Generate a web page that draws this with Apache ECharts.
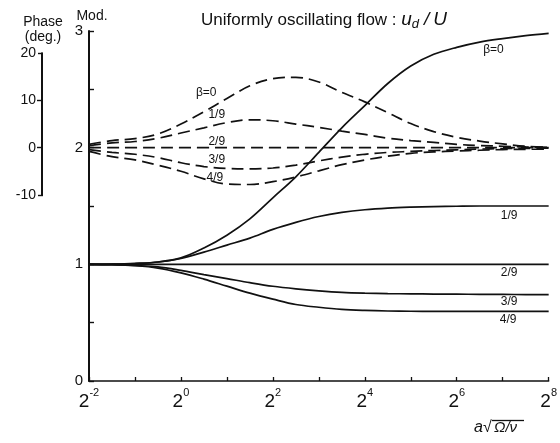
<!DOCTYPE html>
<html>
<head>
<meta charset="utf-8">
<script src="https://cdn.jsdelivr.net/npm/echarts@6/dist/echarts.min.js"></script>
<style>
  html, body { margin: 0; padding: 0; background: #fff; }
  #chart { width: 560px; height: 443px; }
</style>
</head>
<body>
<div id="chart"></div>
<script>
// Sample positions: log2 of a*sqrt(Omega/nu)
const logX = [-2, -1.5, -1, -0.5, 0, 0.5, 1, 1.5, 2, 2.5, 3, 3.5, 4, 4.5, 5, 5.5, 6, 6.5, 7, 7.5, 8];

// Modulus |u_d/U| for each beta
const modBeta0 = [1.0, 1.0, 1.005, 1.02, 1.055, 1.14, 1.25, 1.39, 1.57, 1.75, 1.96, 2.17, 2.36, 2.55, 2.70, 2.80, 2.86, 2.905, 2.935, 2.96, 2.98];
const modBeta1 = [1.0, 1.002, 1.008, 1.02, 1.05, 1.105, 1.165, 1.225, 1.30, 1.36, 1.41, 1.445, 1.468, 1.482, 1.49, 1.495, 1.498, 1.50, 1.50, 1.50, 1.50];
const modBeta2 = [1.0, 1.0, 1.0, 1.0, 1.0, 1.0, 1.0, 1.0, 1.0, 1.0, 1.0, 1.0, 1.0, 1.0, 1.0, 1.0, 1.0, 1.0, 1.0, 1.0, 1.0];
const modBeta3 = [1.0, 0.998, 0.99, 0.978, 0.948, 0.912, 0.878, 0.843, 0.812, 0.79, 0.773, 0.76, 0.753, 0.749, 0.747, 0.745, 0.744, 0.743, 0.742, 0.741, 0.741];
const modBeta4 = [1.0, 0.997, 0.988, 0.968, 0.927, 0.873, 0.813, 0.753, 0.702, 0.656, 0.632, 0.614, 0.605, 0.600, 0.598, 0.597, 0.597, 0.597, 0.597, 0.597, 0.597];

// Phase (deg.) for each beta
const phaseBeta0 = [0.7, 1.5, 1.9, 2.9, 5.0, 7.6, 10.4, 13.1, 14.6, 14.9, 13.9, 11.7, 9.7, 7.4, 5.1, 3.4, 2.2, 1.4, 0.8, 0.3, 0.1];
const phaseBeta1 = [0.4, 1.0, 1.3, 2.0, 3.1, 4.2, 5.3, 5.9, 5.7, 5.0, 4.3, 3.5, 2.8, 2.0, 1.5, 1.1, 0.7, 0.45, 0.3, 0.15, 0.05];
const phaseBeta2 = [0, 0, 0, 0, 0, 0, 0, 0, 0, 0, 0, 0, 0, 0, 0, 0, 0, 0, 0, 0, 0];
const phaseBeta3 = [-0.4, -1.0, -1.4, -2.1, -3.2, -4.0, -4.4, -4.5, -4.3, -3.7, -2.8, -2.0, -1.4, -1.0, -0.8, -0.6, -0.45, -0.3, -0.2, -0.15, -0.1];
const phaseBeta4 = [-0.8, -1.9, -2.6, -3.7, -5.0, -6.6, -7.7, -7.8, -7.2, -6.2, -4.9, -3.6, -2.6, -1.8, -1.2, -0.9, -0.7, -0.55, -0.4, -0.35, -0.3];

const betaNames = ['β=0', '1/9', '2/9', '3/9', '4/9'];
const modTickLabels = [0, 1, 2, 3];
const phaseTickLabels = [-10, 0, 10, 20];

// Layout
const FONT = 'Liberation Sans, Arial, sans-serif';
const INK = '#111';
const GRID = { left: 89, right: 4, top: 31, bottom: 62 };
const CHART_H = 443;
const MOD_MIN = 0, MOD_MAX = 3;
const PHASE_ZERO_AT_MOD = 2;      // 0 deg sits on Mod = 2
const DEG_PER_MOD = 24.7;         // phase scale relative to modulus scale
const phaseMin = (MOD_MIN - PHASE_ZERO_AT_MOD) * DEG_PER_MOD;
const phaseMax = (MOD_MAX - PHASE_ZERO_AT_MOD) * DEG_PER_MOD;
const plotH = CHART_H - GRID.top - GRID.bottom;
const degToPx = d => GRID.top + (phaseMax - d) / (phaseMax - phaseMin) * plotH;
const phaseAxisTop = degToPx(phaseTickLabels[phaseTickLabels.length - 1]);
const phaseAxisBottom = degToPx(phaseTickLabels[0]);

const pairs = arr => logX.map((e, i) => [e, arr[i]]);

const labelStyle = { show: true, position: 'inside', color: INK, fontSize: 12, fontFamily: FONT };
const tag = (text, x, y) => ({ coord: [x, y], value: text, label: Object.assign({}, labelStyle, { formatter: text }) });

function modSeries(arr, name, lx, ly) {
  return {
    type: 'line', name: 'Mod ' + name, xAxisIndex: 0, yAxisIndex: 0,
    data: pairs(arr), showSymbol: false, smooth: 0.35,
    lineStyle: { color: INK, width: 1.7 },
    markPoint: { symbol: 'circle', symbolSize: 0, itemStyle: { color: 'transparent' }, data: [tag(name, lx, ly)] }
  };
}
function phaseSeries(arr, name, lx, ly) {
  return {
    type: 'line', name: 'Phase ' + name, xAxisIndex: 0, yAxisIndex: 1,
    data: pairs(arr), showSymbol: false, smooth: 0.35,
    lineStyle: { color: INK, width: 1.7, type: [12, 6] },
    markPoint: { symbol: 'circle', symbolSize: 0, itemStyle: { color: 'transparent' }, data: [tag(name, lx, ly)] }
  };
}

const chart = echarts.init(document.getElementById('chart'), null, { renderer: 'canvas' });

const option = {
  animation: false,
  backgroundColor: '#fff',
  textStyle: { fontFamily: FONT, color: INK },
  title: {
    text: '{n|Uniformly oscillating flow : }{i|u}{d|d}{sl|/}{i|U}',
    left: 196, top: 4,
    textStyle: {
      fontWeight: 'normal',
      rich: {
        n: { fontSize: 17, fontFamily: FONT, fontWeight: 'normal', color: INK, lineHeight: 22 },
        i: { fontSize: 19, fontFamily: FONT, fontWeight: 'normal', fontStyle: 'italic', color: INK, lineHeight: 22 },
        d: { fontSize: 13, fontFamily: FONT, fontWeight: 'normal', fontStyle: 'italic', color: INK, verticalAlign: 'bottom', lineHeight: 22 },
        sl: { fontSize: 19, fontFamily: FONT, fontWeight: 'normal', fontStyle: 'italic', color: INK, lineHeight: 22, padding: [0, 4, 0, 5] }
      }
    }
  },
  grid: [
    { left: GRID.left, right: GRID.right, top: GRID.top, bottom: GRID.bottom },
    { left: 42, width: 1, top: phaseAxisTop, height: phaseAxisBottom - phaseAxisTop }
  ],
  xAxis: [
    {
      gridIndex: 0, type: 'value', min: -2, max: 8, interval: 1,
      axisLine: { onZero: false, lineStyle: { color: INK, width: 1.6 } },
      axisTick: { inside: true, length: 4, lineStyle: { color: INK, width: 1.3 } },
      splitLine: { show: false },
      axisLabel: {
        margin: 6, showMinLabel: true, showMaxLabel: true,
        formatter: v => (v % 2 === 0 ? '{b|2}{s|' + (v < 0 ? '-' + (-v) : v) + '}' : ''),
        rich: {
          b: { fontSize: 19, fontFamily: FONT, color: INK, lineHeight: 24, verticalAlign: 'bottom' },
          s: { fontSize: 11, fontFamily: FONT, color: INK, lineHeight: 24, verticalAlign: 'top' }
        }
      }
    },
    { gridIndex: 1, type: 'value', min: 0, max: 1, show: false }
  ],
  yAxis: [
    {
      gridIndex: 0, type: 'value', min: MOD_MIN, max: MOD_MAX, interval: 0.5,
      name: 'Mod.', nameLocation: 'end', nameGap: 8,
      nameTextStyle: { fontSize: 14, color: INK, align: 'center', verticalAlign: 'bottom', padding: [0, 0, 0, 6] },
      axisLine: { onZero: false, lineStyle: { color: INK, width: 2 } },
      axisTick: { inside: true, length: 5, lineStyle: { color: INK, width: 1.4 } },
      splitLine: { show: false },
      axisLabel: {
        margin: 6, fontSize: 15, color: INK,
        formatter: v => (modTickLabels.indexOf(v) >= 0 ? String(v) : '')
      }
    },
    {
      gridIndex: 0, type: 'value', min: phaseMin, max: phaseMax, show: false
    },
    {
      gridIndex: 1, type: 'value', min: phaseTickLabels[0], max: phaseTickLabels[phaseTickLabels.length - 1], interval: 10,
      name: 'Phase\n(deg.)', nameLocation: 'end', nameGap: 9,
      nameTextStyle: { fontSize: 14, color: INK, align: 'center', verticalAlign: 'bottom', lineHeight: 15, padding: [0, 0, 0, 2] },
      axisLine: { onZero: false, lineStyle: { color: INK, width: 2 } },
      axisTick: { inside: false, length: 5, lineStyle: { color: INK, width: 1.4 }, customValues: [0, 10] },
      splitLine: { show: false },
      axisLabel: { margin: 6, fontSize: 14, color: INK }
    },
    {
      gridIndex: 1, type: 'value', min: phaseTickLabels[0], max: phaseTickLabels[phaseTickLabels.length - 1], interval: 10,
      axisLine: { show: false, onZero: false },
      axisTick: { inside: true, length: 5, lineStyle: { color: INK, width: 1.4 }, customValues: [-10, 20] },
      axisLabel: { show: false },
      splitLine: { show: false }
    }
  ],
  series: [
    modSeries(modBeta0, betaNames[0], 6.8, 2.84),
    modSeries(modBeta1, betaNames[1], 7.14, 1.42),
    modSeries(modBeta2, betaNames[2], 7.14, 0.93),
    modSeries(modBeta3, betaNames[3], 7.14, 0.68),
    modSeries(modBeta4, betaNames[4], 7.12, 0.525),
    phaseSeries(phaseBeta0, betaNames[0], 0.55, 11.6),
    phaseSeries(phaseBeta1, betaNames[1], 0.78, 7.0),
    phaseSeries(phaseBeta2, betaNames[2], 0.78, 1.3),
    phaseSeries(phaseBeta3, betaNames[3], 0.78, -2.5),
    phaseSeries(phaseBeta4, betaNames[4], 0.74, -6.3)
  ],
  graphic: [
    {
      type: 'group', left: 474, top: 418,
      children: [
        { type: 'text', x: 0, y: 0, style: { text: 'a√', font: 'italic 16px ' + FONT, fill: INK } },
        { type: 'text', x: 20, y: 1, style: { text: 'Ω/ν', font: 'italic 15px ' + FONT, fill: INK } },
        { type: 'line', shape: { x1: 18, y1: 1, x2: 50, y2: 1 }, style: { stroke: INK, lineWidth: 1.3 } }
      ]
    }
  ]
};

chart.setOption(option);
</script>
</body>
</html>
